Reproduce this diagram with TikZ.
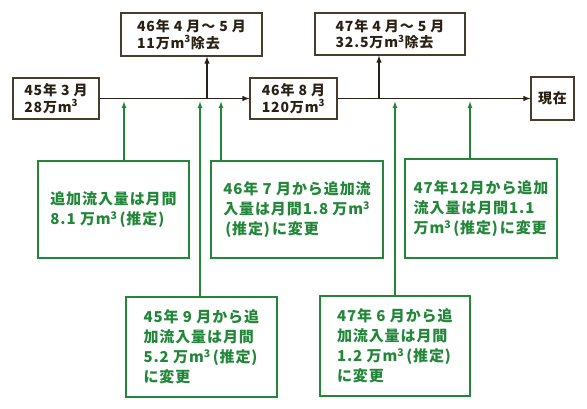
\documentclass[tikz,border=0pt]{standalone}
\usepackage{fontspec}
\setmainfont{Noto Sans CJK JP}
\newfontfamily\spacedjp{Noto Sans CJK JP}[LetterSpace=6]
\usetikzlibrary{arrows}
\usetikzlibrary{positioning}
\definecolor{ink}{HTML}{2A2116}
\definecolor{boxline}{HTML}{4A3B2A}
\definecolor{leaf}{HTML}{23873A}
\newcommand{\mcube}{m\textsuperscript{3}}
\newcommand{\estimated}{\kern2pt(推定)\kern2pt}
\newcommand{\tightlines}{\lineskiplimit=-20pt\relax}
\tikzset{
topbox/.style={
draw=boxline,
line width=1.1pt,
inner sep=0pt,
align=left,
text=ink,
font=\spacedjp\fontsize{14}{16.5}\selectfont\bfseries\tightlines},
greenbox/.style={
draw=leaf,
line width=1.1pt,
inner sep=0pt,
align=left,
text=leaf,
font=\spacedjp\fontsize{15}{20}\selectfont\bfseries\tightlines},
every edge/.style={
draw=ink,
-latex,
line width=1.4pt},
inflow/.style={
draw=leaf,
line width=1.3pt}}

\begin{document}
\begin{tikzpicture}[x=1pt, y=-1pt]
\useasboundingbox (0,0) rectangle (587,409);
\node[topbox, minimum width=86pt, minimum height=41pt] (m45) at (56,98.5) {45年 3 月\\28万\mcube};
\node[topbox, minimum width=87pt, minimum height=41pt] (m46) at (293.5,98.5) {46年 8 月\\120万\mcube};
\node[topbox, minimum width=43pt, minimum height=43pt] (now) at (552.5,98.5) {現在};
\node[topbox, minimum width=141pt, minimum height=43pt] (rm46) at (191.5,34.5) {46年 4 月〜 5 月\\11万\mcube 除去};
\node[topbox, minimum width=150pt, minimum height=42pt] (rm47) at (390,34) {47年 4 月〜 5 月\\32.5万\mcube 除去};
\node[greenbox, minimum width=151pt, minimum height=97pt] (addA) at (113.5,209.5) {追加流入量は月間\\8.1 万\mcube\estimated};
\node[greenbox, minimum width=172pt, minimum height=97pt] (addB) at (297,209.5) {46年 7 月から追加流\\入量は月間1.8 万\mcube\\\estimated に変更};
\node[greenbox, minimum width=152pt, minimum height=99pt] (addC) at (481,208.5) {47年12月から追加\\流入量は月間1.1\\万\mcube\estimated に変更};
\node[greenbox, minimum width=151pt, minimum height=100pt] (addD) at (201.5,347) {45年 9 月から追\\加流入量は月間\\5.2 万\mcube\estimated\\に変更};
\node[greenbox, minimum width=150pt, minimum height=100pt] (addE) at (395,346) {47年 6 月から追\\加流入量は月間\\1.2 万\mcube\estimated\\に変更};
\coordinate (cut46) at (207,98.5);
\coordinate (cut47) at (379,98.5);
\coordinate (inA) at (124,101.5);
\coordinate (inD) at (200,101.5);
\coordinate (inB) at (221,101.5);
\coordinate (inE) at (395,101.5);
\coordinate (inC) at (470,101.5);
\draw (m45) edge (m46);
\draw (m46) edge (now);
\draw (cut46) edge (cut46 |- rm46.south);
\draw (cut47) edge (cut47 |- rm47.south);
\draw (addA.north -| inA) edge[inflow] (inA);
\draw (addD.north -| inD) edge[inflow] (inD);
\draw (addB.north -| inB) edge[inflow] (inB);
\draw (addE.north -| inE) edge[inflow] (inE);
\draw (addC.north -| inC) edge[inflow] (inC);
\end{tikzpicture}
\end{document}
